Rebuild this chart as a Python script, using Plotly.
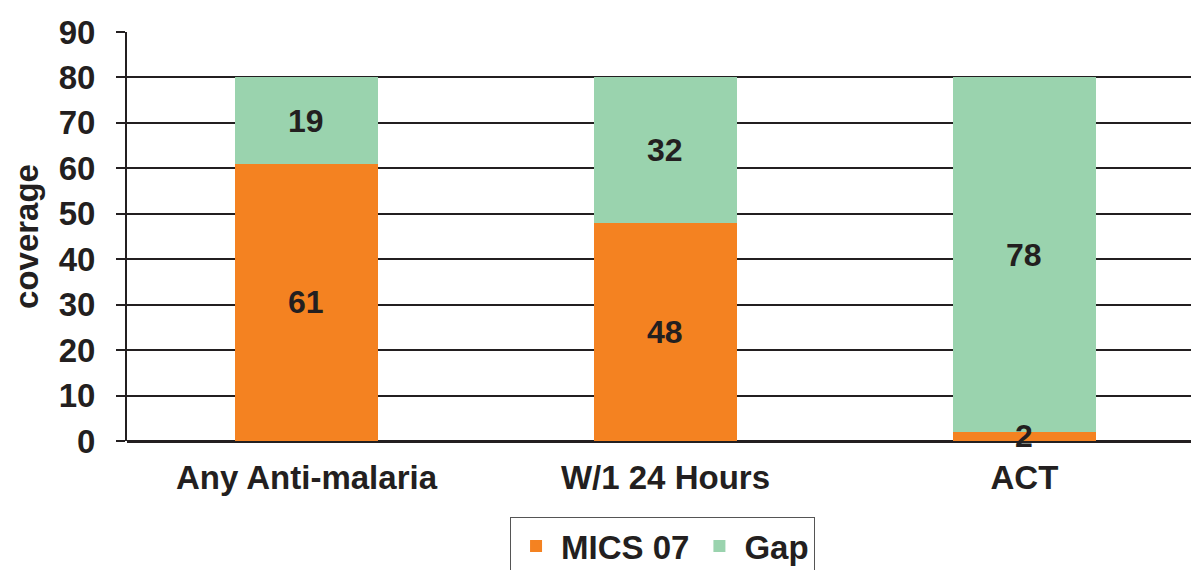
import plotly.graph_objects as go

# Coverage indicators and their two stacked components
categories = ["Any Anti-malaria", "W/1 24 Hours", "ACT"]
mics07 = [61, 48, 2]
gap = [19, 32, 78]
y_ticks = [0, 10, 20, 30, 40, 50, 60, 70, 80, 90]

ORANGE = "#F48221"
GREEN = "#9AD3AE"
INK = "#231F20"
FONT = "Liberation Sans, Arial, sans-serif"

fig = go.Figure()
for name, vals, color in [("MICS 07", mics07, ORANGE), ("Gap", gap, GREEN)]:
    fig.add_trace(go.Bar(
        x=categories, y=vals, name=name,
        marker=dict(color=color, line=dict(width=0)),
        width=0.4,
    ))

# Value labels centred in each stacked segment
label_font = dict(family=FONT, size=32, color=INK, weight="bold")
for cat, low, high in zip(categories, mics07, gap):
    fig.add_annotation(x=cat, y=low / 2, text=str(low), showarrow=False,
                       font=label_font, xref="x", yref="y")
    fig.add_annotation(x=cat, y=low + high / 2, text=str(high), showarrow=False,
                       font=label_font, xref="x", yref="y")

fig.update_layout(
    barmode="stack",
    width=1191, height=570,
    margin=dict(l=127, r=0, t=32, b=129, autoexpand=False),
    paper_bgcolor="white", plot_bgcolor="white",
    font=dict(family=FONT, color=INK),
    showlegend=True,
    legend=dict(
        orientation="h",
        x=0.36, xanchor="left", y=-0.186, yanchor="top",
        bordercolor="#555555", borderwidth=1,
        font=dict(family=FONT, size=33, color=INK, weight="bold"),
        itemwidth=40,
        traceorder="normal",
    ),
    xaxis=dict(
        range=[-0.5, 2.464], automargin=False,
        showgrid=False, ticks="", showline=False,
        tickfont=dict(family=FONT, size=33, color=INK, weight="bold"),
        ticklabelstandoff=14,
    ),
    yaxis=dict(
        range=[0, 90], tickvals=y_ticks, automargin=False,
        showgrid=True, gridcolor=INK, gridwidth=2,
        zeroline=True, zerolinecolor=INK, zerolinewidth=2.5,
        showline=True, linecolor=INK, linewidth=2,
        ticks="outside", ticklen=9, tickwidth=2, tickcolor=INK,
        tickfont=dict(family=FONT, size=33, color=INK, weight="bold"),
        ticklabelstandoff=14,
        title=dict(text="coverage", standoff=10,
                   font=dict(family=FONT, size=33, color=INK, weight="bold")),
    ),
)

fig.write_html("out.html")
